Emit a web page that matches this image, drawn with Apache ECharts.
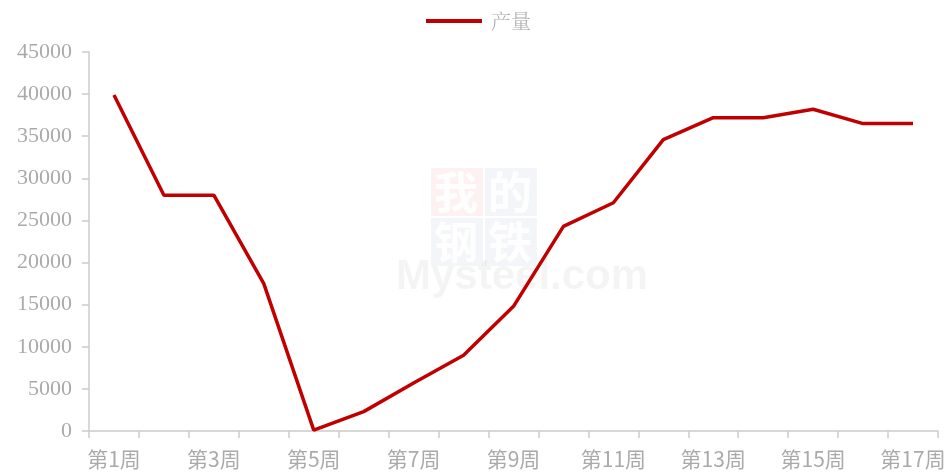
<!DOCTYPE html>
<html>
<head>
<meta charset="utf-8">
<script src="https://cdn.jsdelivr.net/npm/echarts@6/dist/echarts.min.js"></script>
<style>
  html, body { margin: 0; padding: 0; background: #fff; }
  #main { width: 949px; height: 476px; }
</style>
</head>
<body>
<div id="main"></div>
<script>
// 周次
var weeks = ['第1周', '第2周', '第3周', '第4周', '第5周', '第6周', '第7周', '第8周', '第9周',
  '第10周', '第11周', '第12周', '第13周', '第14周', '第15周', '第16周', '第17周']
// 产量
var output = [39900, 28000, 28000, 17500, 100, 2300, 5700, 9000, 14800,
  24300, 27100, 34600, 37200, 37200, 38200, 36500, 36500]
var seriesName = '产量'

var myChart = echarts.init(document.getElementById('main'))

// 水印
var wm = [
  { type: 'rect', left: 431, top: 168, shape: { width: 52, height: 48 }, style: { fill: 'rgba(220,60,60,0.07)' } },
  { type: 'rect', left: 485, top: 168, shape: { width: 52, height: 48 }, style: { fill: 'rgba(60,90,160,0.06)' } },
  { type: 'rect', left: 431, top: 218, shape: { width: 52, height: 48 }, style: { fill: 'rgba(60,90,160,0.06)' } },
  { type: 'rect', left: 485, top: 218, shape: { width: 52, height: 48 }, style: { fill: 'rgba(60,90,160,0.06)' } },
  { type: 'text', left: 434, top: 170, style: { text: '我', fill: 'rgba(255,255,255,0.9)', font: 'bold 44px "Noto Sans CJK SC"' } },
  { type: 'text', left: 488, top: 170, style: { text: '的', fill: 'rgba(255,255,255,0.9)', font: 'bold 44px "Noto Sans CJK SC"' } },
  { type: 'text', left: 434, top: 220, style: { text: '钢', fill: 'rgba(255,255,255,0.9)', font: 'bold 44px "Noto Sans CJK SC"' } },
  { type: 'text', left: 488, top: 220, style: { text: '铁', fill: 'rgba(255,255,255,0.9)', font: 'bold 44px "Noto Sans CJK SC"' } },
  { type: 'text', left: 396, top: 256, style: { text: 'Mysteel.com', fill: 'rgba(0,0,0,0.045)', font: 'bold 42px "Liberation Sans"' } }
]

var option = {
  animation: false,
  backgroundColor: '#fff',
  legend: {
    top: 6,
    left: 421,
    itemWidth: 56,
    itemHeight: 4,
    icon: 'rect',
    textStyle: {
      color: '#aaa',
      fontSize: 20,
      padding: [0, 0, 0, 4],
      fontFamily: '"Noto Serif CJK SC", "Noto Sans CJK SC"',
      fontWeight: 300
    },
    data: [seriesName]
  },
  grid: {
    left: 89,
    right: 11,
    top: 52,
    bottom: 45
  },
  graphic: wm,
  xAxis: {
    type: 'category',
    data: weeks,
    boundaryGap: true,
    axisLine: { lineStyle: { color: '#ccc', width: 1.5 } },
    axisTick: { show: true, interval: 0, length: 7, lineStyle: { color: '#ccc', width: 1.5 } },
    axisLabel: {
      interval: 1,
      color: '#aaa',
      fontSize: 21,
      margin: 18,
      fontFamily: '"Liberation Sans Narrow", "Noto Sans CJK SC"'
    }
  },
  yAxis: {
    type: 'value',
    min: 0,
    max: 45000,
    interval: 5000,
    axisLine: { show: true, lineStyle: { color: '#ccc', width: 1.5 } },
    axisTick: { show: true, length: 7, lineStyle: { color: '#ccc', width: 1.5 } },
    axisLabel: {
      color: '#aaa',
      fontSize: 22,
      margin: 17,
      fontFamily: '"Liberation Serif"',
      formatter: function (v) { return String(v) }
    },
    splitLine: { show: false }
  },
  series: [{
    name: seriesName,
    type: 'line',
    data: output,
    symbol: 'none',
    z: 5,
    lineStyle: { color: '#c00000', width: 3.5 },
    itemStyle: { color: '#c00000' }
  }]
}

myChart.setOption(option)
window.onresize = function () {
  myChart.resize()
}
</script>
</body>
</html>
